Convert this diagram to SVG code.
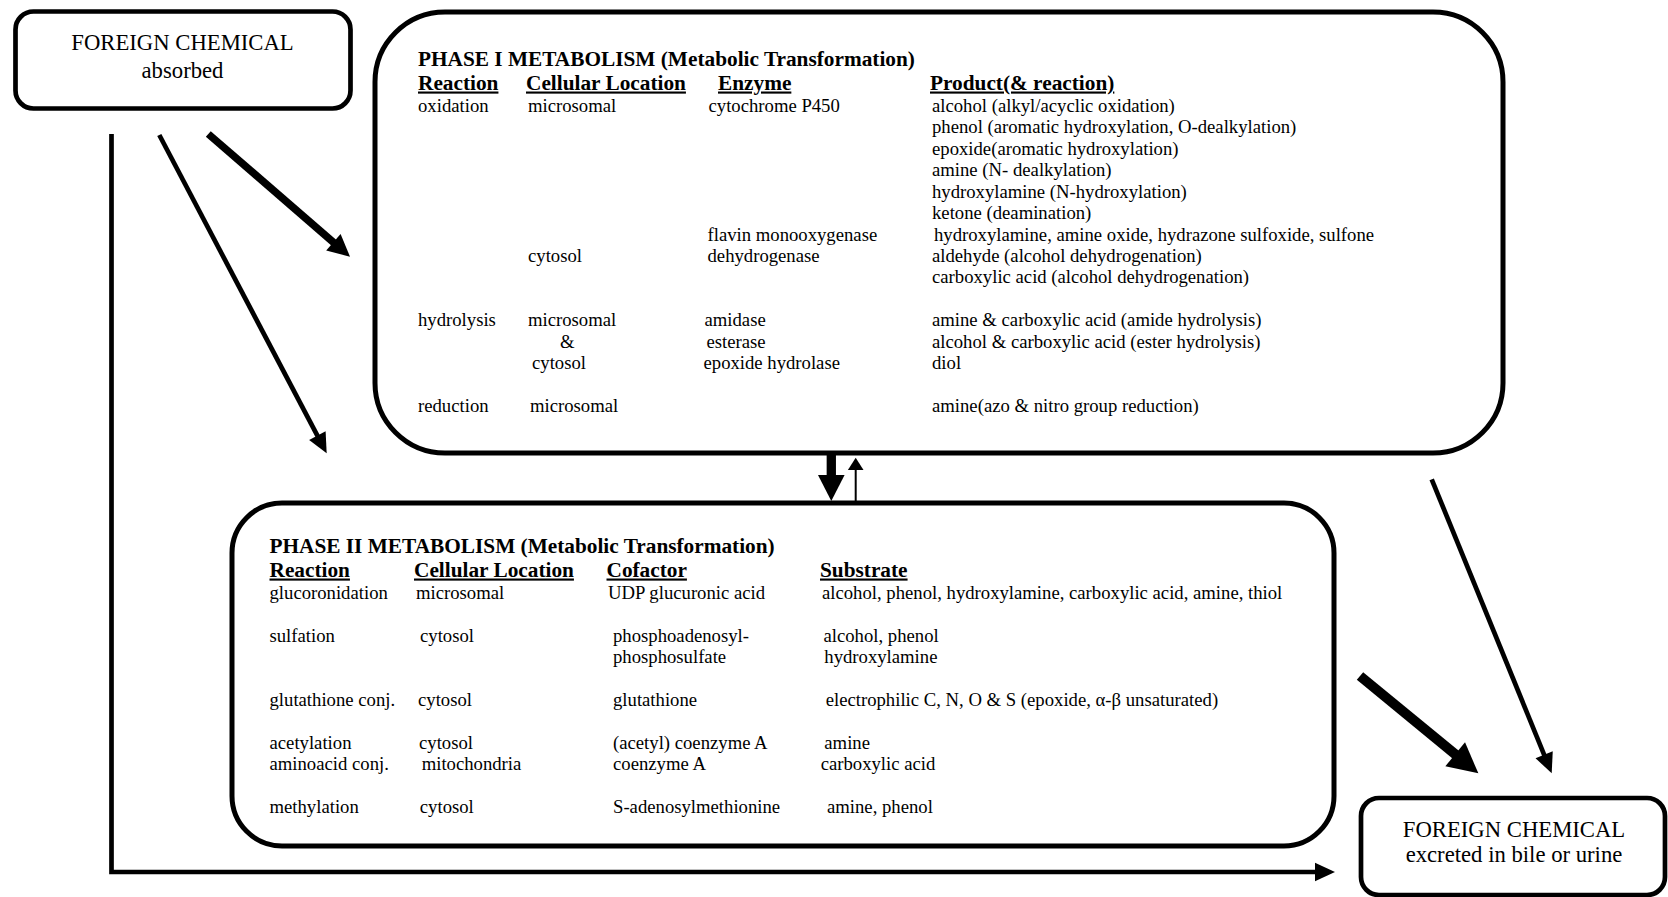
<svg xmlns="http://www.w3.org/2000/svg" width="1668" height="897" viewBox="0 0 1668 897">
<style>
.box{fill:#fff;stroke:#000;stroke-width:5}
.sbox{fill:#fff;stroke:#000;stroke-width:4.7}
text{font-family:"Liberation Serif","Times New Roman",serif;fill:#000}
.t{font-size:18.7px}
.b{font-size:21.3px;font-weight:bold}
.h{font-size:21.3px;font-weight:bold;text-decoration:underline}
.c{font-size:22.7px;text-anchor:middle}
.ln{fill:none;stroke:#000;stroke-linecap:butt;stroke-linejoin:miter}
</style>
<defs>
<marker id="aThin" markerUnits="userSpaceOnUse" markerWidth="24" markerHeight="24" viewBox="0 -12 22 24" refX="2" refY="0" orient="auto"><path d="M0,-9.3 L20,0 L0,9.3 Z" fill="#000"/></marker>
<marker id="aMid" markerUnits="userSpaceOnUse" markerWidth="26" markerHeight="26" viewBox="0 -13 24 26" refX="2" refY="0" orient="auto"><path d="M0,-11 L22,0 L0,11 Z" fill="#000"/></marker>
<marker id="aBig" markerUnits="userSpaceOnUse" markerWidth="34" markerHeight="34" viewBox="0 -17 32 34" refX="3" refY="0" orient="auto"><path d="M0,-15.5 L30,0 L0,15.5 Z" fill="#000"/></marker>
<marker id="aDown" markerUnits="userSpaceOnUse" markerWidth="30" markerHeight="30" viewBox="0 -15 28 30" refX="2" refY="0" orient="auto"><path d="M0,-13.3 L26,0 L0,13.3 Z" fill="#000"/></marker>
<marker id="aUp" markerUnits="userSpaceOnUse" markerWidth="16" markerHeight="18" viewBox="0 -9 14 18" refX="1" refY="0" orient="auto"><path d="M0,-7.8 L12.3,0 L0,7.8 Z" fill="#000"/></marker>
</defs>
<rect width="1668" height="897" fill="#fff"/>

<g id="connectors">
<polyline class="ln" points="111.5,134 111.5,872 1317,872" stroke-width="4.7" marker-end="url(#aThin)"/>
<line class="ln" x1="208.3" y1="134" x2="334.9" y2="243.6" stroke-width="7.5" marker-end="url(#aMid)"/>
<line class="ln" x1="159.3" y1="135" x2="318.3" y2="437.4" stroke-width="4.7" marker-end="url(#aThin)"/>
<line class="ln" x1="831.3" y1="454" x2="831.3" y2="477" stroke-width="9.3" marker-end="url(#aDown)"/>
<line class="ln" x1="855.7" y1="502" x2="855.7" y2="469" stroke-width="2" marker-end="url(#aUp)"/>
<line class="ln" x1="1431.7" y1="479.3" x2="1544.9" y2="756.6" stroke-width="4.7" marker-end="url(#aThin)"/>
<line class="ln" x1="1360" y1="676" x2="1457.5" y2="756.2" stroke-width="10" marker-end="url(#aBig)"/>
</g>

<g id="absorbed">
<rect class="sbox" x="15.5" y="11.5" width="335" height="97" rx="18"/>
<text class="c" x="182.5" y="50">FOREIGN CHEMICAL</text>
<text class="c" x="182.5" y="77.5">absorbed</text>
</g>

<g id="phase1">
<rect class="box" x="375" y="12" width="1128" height="441" rx="70"/>
<text class="b" x="418" y="66">PHASE I METABOLISM (Metabolic Transformation)</text>
<text class="h" x="418" y="89.5">Reaction</text>
<text class="h" x="526" y="89.5">Cellular Location</text>
<text class="h" x="718" y="89.5">Enzyme</text>
<text class="h" x="930" y="89.5">Product(&amp; reaction)</text>
<text class="t" x="418" y="112">oxidation</text>
<text class="t" x="528" y="112">microsomal</text>
<text class="t" x="708.5" y="112">cytochrome P450</text>
<text class="t" x="932" y="112">alcohol (alkyl/acyclic oxidation)</text>
<text class="t" x="932" y="133.4">phenol (aromatic hydroxylation, O-dealkylation)</text>
<text class="t" x="932" y="154.9">epoxide(aromatic hydroxylation)</text>
<text class="t" x="932" y="176.3">amine (N- dealkylation)</text>
<text class="t" x="932" y="197.7">hydroxylamine (N-hydroxylation)</text>
<text class="t" x="932" y="219.2">ketone (deamination)</text>
<text class="t" x="707.5" y="240.6">flavin monooxygenase</text>
<text class="t" x="934" y="240.6">hydroxylamine, amine oxide, hydrazone sulfoxide, sulfone</text>
<text class="t" x="528" y="262">cytosol</text>
<text class="t" x="707.5" y="262">dehydrogenase</text>
<text class="t" x="932" y="262">aldehyde (alcohol dehydrogenation)</text>
<text class="t" x="932" y="283.4">carboxylic acid (alcohol dehydrogenation)</text>
<text class="t" x="418" y="326.3">hydrolysis</text>
<text class="t" x="528" y="326.3">microsomal</text>
<text class="t" x="704.5" y="326.3">amidase</text>
<text class="t" x="932" y="326.3">amine &amp; carboxylic acid (amide hydrolysis)</text>
<text class="t" x="560" y="347.7">&amp;</text>
<text class="t" x="706.5" y="347.7">esterase</text>
<text class="t" x="932" y="347.7">alcohol &amp; carboxylic acid (ester hydrolysis)</text>
<text class="t" x="532" y="369.2">cytosol</text>
<text class="t" x="703.5" y="369.2">epoxide hydrolase</text>
<text class="t" x="932" y="369.2">diol</text>
<text class="t" x="418" y="412">reduction</text>
<text class="t" x="530" y="412">microsomal</text>
<text class="t" x="932" y="412">amine(azo &amp; nitro group reduction)</text>
</g>

<g id="phase2">
<rect class="box" x="232" y="503" width="1102" height="343" rx="50"/>
<text class="b" x="269.5" y="553">PHASE II METABOLISM (Metabolic Transformation)</text>
<text class="h" x="269.5" y="576.5">Reaction</text>
<text class="h" x="414" y="576.5">Cellular Location</text>
<text class="h" x="606.5" y="576.5">Cofactor</text>
<text class="h" x="820" y="576.5">Substrate</text>
<text class="t" x="269.5" y="598.5">glucoronidation</text>
<text class="t" x="416" y="598.5">microsomal</text>
<text class="t" x="608" y="598.5">UDP glucuronic acid</text>
<text class="t" x="822" y="598.5">alcohol, phenol, hydroxylamine, carboxylic acid, amine, thiol</text>
<text class="t" x="269.5" y="641.5">sulfation</text>
<text class="t" x="420" y="641.5">cytosol</text>
<text class="t" x="613" y="641.5">phosphoadenosyl-</text>
<text class="t" x="823.5" y="641.5">alcohol, phenol</text>
<text class="t" x="613" y="663">phosphosulfate</text>
<text class="t" x="824.3" y="663">hydroxylamine</text>
<text class="t" x="269.5" y="705.8">glutathione conj.</text>
<text class="t" x="418" y="705.8">cytosol</text>
<text class="t" x="613" y="705.8">glutathione</text>
<text class="t" x="825.7" y="705.8">electrophilic C, N, O &amp; S (epoxide, α-β unsaturated)</text>
<text class="t" x="269.5" y="748.5">acetylation</text>
<text class="t" x="419" y="748.5">cytosol</text>
<text class="t" x="613" y="748.5">(acetyl) coenzyme A</text>
<text class="t" x="824.3" y="748.5">amine</text>
<text class="t" x="269.5" y="769.8">aminoacid conj.</text>
<text class="t" x="421.7" y="769.8">mitochondria</text>
<text class="t" x="613" y="769.8">coenzyme A</text>
<text class="t" x="820.7" y="769.8">carboxylic acid</text>
<text class="t" x="269.5" y="812.5">methylation</text>
<text class="t" x="419.8" y="812.5">cytosol</text>
<text class="t" x="613" y="812.5">S-adenosylmethionine</text>
<text class="t" x="827" y="812.5">amine, phenol</text>
</g>

<g id="excreted">
<rect class="sbox" x="1361" y="798" width="304" height="97" rx="18"/>
<text class="c" x="1514" y="836.5">FOREIGN CHEMICAL</text>
<text class="c" x="1514" y="862">excreted in bile or urine</text>
</g>
</svg>
